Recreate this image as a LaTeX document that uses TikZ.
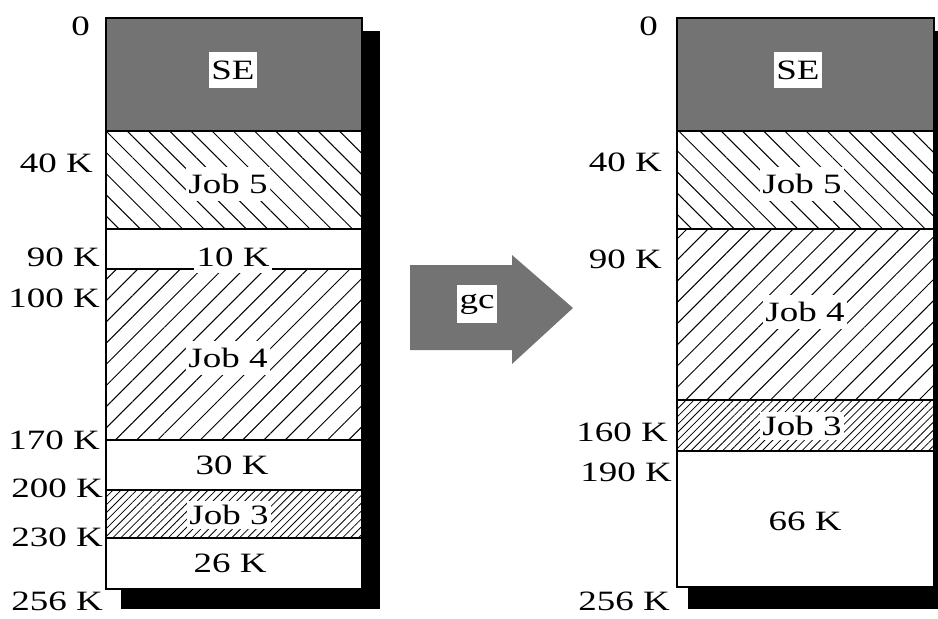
\documentclass[tikz,border=0pt]{standalone}
\usepackage{fontspec}
\setmainfont{Liberation Serif}
\usetikzlibrary{patterns.meta}

\tikzset{
    mem frame/.style={
      draw=black,
      line width=1.3pt
    },
    mem rule/.style={
      draw=black,
      line width=1.2pt
    },
    mem shadow/.style={
      fill=black
    },
    mem system/.style={
      fill=black!55
    },
    mem job5/.style={
      pattern={Lines[angle=-45,distance=15pt,line width=1pt]}
    },
    mem job4/.style={
      pattern={Lines[angle=45,distance=15pt,line width=1pt]}
    },
    mem job3/.style={
      pattern={Lines[angle=45,distance=5.6pt,line width=0.8pt]}
    },
    mem label/.style={
      font=\fontsize{28}{32}\selectfont,
      xscale=1.32,
      fill=white,
      inner xsep=2pt,
      inner ysep=7pt
    },
    mem addr/.style={
      font=\fontsize{28}{32}\selectfont,
      xscale=1.32,
      anchor=east,
      inner sep=0pt
    }
  }

\begin{document}
\begin{tikzpicture}[x=1pt, y=-1pt]
      \useasboundingbox (0,0) rectangle (938,619);

      % 影
      \fill[mem shadow] (362,31) rectangle (380,609);
      \fill[mem shadow] (121,589) rectangle (380,609);
      \fill[mem shadow] (934,31) rectangle (938,609);
      \fill[mem shadow] (688,587) rectangle (938,609);

      % 塗り（gc前）
      \fill[mem system] (106,18) rectangle (362,131);
      \fill[mem job5] (106,131) rectangle (362,229);
      \fill[mem job4] (106,269) rectangle (362,440);
      \fill[mem job3] (106,490) rectangle (362,538);

      % 塗り（gc後）
      \fill[mem system] (677,18) rectangle (934,131);
      \fill[mem job5] (677,131) rectangle (934,229);
      \fill[mem job4] (677,229) rectangle (934,400);
      \fill[mem job3] (677,400) rectangle (934,451);

      % 輪郭
      \draw[mem frame] (106,18) rectangle (362,589);
      \foreach \y in {131,229,269,440,490,538}
        \draw[mem rule] (106,\y) -- (362,\y);
      \draw[mem frame] (677,18) rectangle (934,587);
      \foreach \y in {131,229,400,451}
        \draw[mem rule] (677,\y) -- (934,\y);

      % 矢印
      \fill[mem system] (410,265) -- (512,265) -- (512,255) -- (573,308)
        -- (512,364) -- (512,350) -- (410,350) -- cycle;
      \node[mem label, inner ysep=9pt] (gc) at (477,304) {gc};

      % ラベル（gc前）
      \node[mem label, inner ysep=9pt] (se-l) at (233,70) {SE};
      \node[mem label] (job5-l) at (228,184) {Job 5};
      \node[mem label] (free10-l) at (233,257) {10 K};
      \node[mem label] (job4-l) at (228,358) {Job 4};
      \node[mem label] (free30-l) at (232,465) {30 K};
      \node[mem label, inner ysep=4pt] (job3-l) at (229,515) {Job 3};
      \node[mem label] (free26-l) at (230,563) {26 K};

      % ラベル（gc後）
      \node[mem label, inner ysep=9pt] (se-r) at (798,70) {SE};
      \node[mem label] (job5-r) at (802,184) {Job 5};
      \node[mem label] (job4-r) at (805,312) {Job 4};
      \node[mem label, inner ysep=4pt] (job3-r) at (802,426) {Job 3};
      \node[mem label] (free66-r) at (805,521) {66 K};

      % アドレス
      \node[mem addr] (a0-l) at (90,26) {0};
      \node[mem addr] (a40-l) at (93,163) {40 K};
      \node[mem addr] (a90-l) at (100,257) {90 K};
      \node[mem addr] (a100-l) at (100,298) {100 K};
      \node[mem addr] (a170-l) at (100,440) {170 K};
      \node[mem addr] (a200-l) at (103,488) {200 K};
      \node[mem addr] (a230-l) at (103,537) {230 K};
      \node[mem addr] (a256-l) at (103,601) {256 K};
      \node[mem addr] (a0-r) at (658,26) {0};
      \node[mem addr] (a40-r) at (662,162) {40 K};
      \node[mem addr] (a90-r) at (662,259) {90 K};
      \node[mem addr] (a160-r) at (668,432) {160 K};
      \node[mem addr] (a190-r) at (672,472) {190 K};
      \node[mem addr] (a256-r) at (670,601) {256 K};
    \end{tikzpicture}
\end{document}
